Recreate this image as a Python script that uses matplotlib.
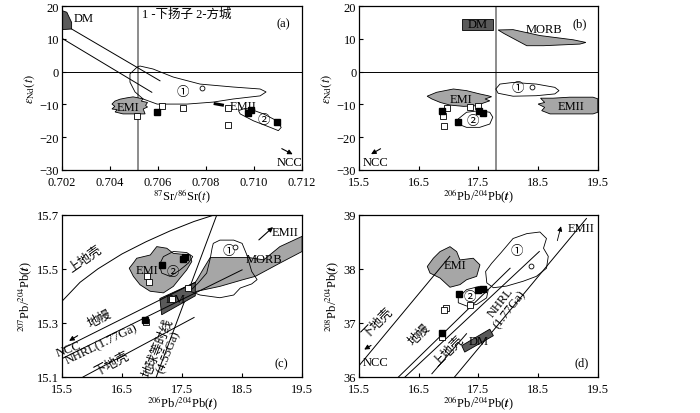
import matplotlib
matplotlib.use('Agg')
import matplotlib.pyplot as plt
from matplotlib.patches import Polygon

plt.rcParams['font.family'] = ['Liberation Serif', 'Noto Sans CJK SC']
plt.rcParams['mathtext.fontset'] = 'stix'
plt.rcParams['font.size'] = 9

GRAY = '#a6a6a6'
DARK = '#5a5a5a'

# ---------------- (a) eNd(t) vs 87Sr/86Sr(t)
a_open_x = [0.70513, 0.70617, 0.70704, 0.70892, 0.70892]
a_open_y = [-13.5, -10.5, -11.1, -11.1, -16.3]
a_fill_x = [0.70596, 0.70975, 0.70988, 0.71096]
a_fill_y = [-12.3, -12.6, -11.7, -15.4]
a_circ = (0.70783, -5.0)
a_dm = [(0.702, 18.6), (0.7022, 18.1), (0.7024, 15.0), (0.7024, 13.0), (0.702, 12.8)]
a_emi = [(0.70408, -9.9), (0.7042, -9.0), (0.70442, -8.4), (0.70470, -8.0), (0.70496, -7.7),
         (0.70538, -8.3), (0.70530, -9.0), (0.70556, -9.4), (0.70548, -10.3), (0.70556, -10.8),
         (0.70538, -11.4), (0.70546, -12.9), (0.70504, -12.9), (0.70454, -12.9),
         (0.70421, -12.3), (0.70430, -11.6), (0.70408, -11.4), (0.70420, -10.6)]
a_f1 = [(0.70525, 1.7), (0.70579, 0.8), (0.70663, -1.65), (0.70775, -3.8), (0.70913, -4.7),
        (0.71025, -5.3), (0.7105, -6.2), (0.71025, -7.4), (0.70913, -8.35), (0.70829, -9.3),
        (0.70721, -9.9), (0.70596, -9.9), (0.70538, -8.35), (0.70504, -6.2), (0.70483, -3.2),
        (0.70483, -0.7), (0.70513, 1.4)]
a_f2 = [(0.70935, -11.9), (0.70963, -11.2), (0.7099, -11.6), (0.71039, -12.9), (0.71095, -15.0),
        (0.71113, -17.0), (0.71101, -18.0), (0.71067, -17.0), (0.70997, -15.0), (0.70942, -12.9)]
a_band1 = ([0.7024, 0.70608], [13.0, -2.8])
a_band2 = ([0.702, 0.70574], [10.15, -6.3])

# ---------------- (b) eNd(t) vs 206Pb/204Pb(t)
b_open_x = [16.968, 16.90, 16.923, 17.358, 17.497]
b_open_y = [-11.1, -13.4, -16.5, -10.9, -10.6]
b_fill_x = [16.884, 17.151, 17.513, 17.57]
b_fill_y = [-12.0, -15.3, -12.0, -12.6]
b_circ = (18.39, -4.8)
b_dm = [(17.22, 16.0), (17.75, 16.0), (17.75, 12.7), (17.22, 12.7)]
b_morb = [(17.83, 12.7), (18.08, 12.8), (18.53, 11.0), (19.09, 9.7), (19.30, 8.9),
          (19.20, 8.4), (18.59, 7.9), (18.31, 7.9), (17.93, 11.6)]
b_emi = [(16.64, -7.5), (16.80, -6.3), (17.08, -5.3), (17.30, -5.8), (17.52, -6.8),
         (17.66, -7.35), (17.72, -7.65), (17.61, -8.35), (17.69, -8.9), (17.58, -9.6),
         (17.47, -10.4), (17.25, -10.6), (17.02, -10.2), (16.86, -9.4), (16.72, -8.35)]
b_emii = [(18.54, -8.1), (18.75, -8.1), (19.03, -7.8), (19.42, -7.8), (19.5, -8.3),
          (19.5, -12.4), (19.42, -12.9), (18.98, -12.9), (18.70, -12.9), (18.56, -11.9),
          (18.61, -10.9), (18.50, -9.9), (18.61, -9.4)]
b_f1 = [(17.86, -3.8), (18.08, -3.3), (18.47, -3.8), (18.78, -4.8), (18.85, -5.8),
        (18.78, -6.8), (18.47, -7.35), (18.08, -7.5), (17.83, -6.6), (17.79, -5.3)]
b_f2 = [(17.16, -14.45), (17.30, -12.4), (17.52, -11.9), (17.69, -12.4), (17.74, -13.9),
        (17.69, -15.98), (17.52, -17.0), (17.30, -17.0), (17.16, -16.0)]

# ---------------- (c) 207Pb/204Pb vs 206Pb/204Pb
c_open_x = [16.912, 16.955, 16.895, 17.33, 17.60]
c_open_y = [15.472, 15.451, 15.304, 15.39, 15.43]
c_fill_x = [17.162, 17.511, 17.55, 16.883]
c_fill_y = [15.515, 15.535, 15.545, 15.311]
c_circ = (18.383, 15.582)
c_upper_x = [15.5, 15.8, 16.1, 16.5, 16.9, 17.3, 17.7, 18.05]
c_upper_y = [15.38, 15.45, 15.50, 15.555, 15.60, 15.64, 15.675, 15.70]
c_mantle = ([15.5, 17.72], [15.204, 15.45])
c_nhrl = ([15.5, 18.5], [15.168, 15.496])
c_lower = ([15.85, 17.70], [15.1, 15.32])
c_geochron = ([18.08, 17.07], [15.7, 15.1])
c_dm = [(17.13, 15.39), (17.72, 15.45), (17.72, 15.40), (17.16, 15.33)]
c_morb = [(17.58, 15.403), (17.75, 15.46), (17.86, 15.502), (17.97, 15.542), (18.60, 15.542),
          (18.86, 15.533), (19.13, 15.582), (19.5, 15.62), (19.5, 15.564), (19.13, 15.521),
          (18.72, 15.472), (18.52, 15.46), (18.13, 15.435), (17.75, 15.417)]
c_emi = [(16.62, 15.502), (16.70, 15.525), (16.745, 15.539), (16.97, 15.551), (17.078, 15.582),
         (17.245, 15.576), (17.355, 15.557), (17.633, 15.551), (17.662, 15.527), (17.578, 15.496),
         (17.467, 15.466), (17.355, 15.435), (17.189, 15.411), (16.967, 15.417), (16.80, 15.441),
         (16.689, 15.472)]
c_f1 = [(18.02, 15.594), (18.13, 15.606), (18.36, 15.606), (18.50, 15.594), (18.58, 15.551),
        (18.66, 15.49), (18.75, 15.46), (18.66, 15.444), (18.47, 15.429), (18.36, 15.403),
        (18.13, 15.393), (17.80, 15.403), (17.63, 15.417), (17.77, 15.448), (17.91, 15.484),
        (17.97, 15.539), (18.00, 15.576)]
c_f2 = [(17.122, 15.515), (17.189, 15.545), (17.355, 15.564), (17.578, 15.56), (17.678, 15.545),
        (17.605, 15.521), (17.467, 15.496), (17.30, 15.472), (17.162, 15.484)]

# ---------------- (d) 208Pb/204Pb vs 206Pb/204Pb
d_open_x = [17.358, 16.956, 16.928, 16.89]
d_open_y = [37.33, 37.268, 37.238, 36.73]
d_fill_x = [17.174, 17.497, 17.57, 16.884]
d_fill_y = [37.537, 37.604, 37.634, 36.805]
d_circ = (18.379, 38.06)
d_lower = ([15.5, 17.02], [36.21, 38.23])
d_mantle = ([16.16, 18.03], [36.0, 38.01])
d_l3 = ([16.27, 18.52], [36.0, 38.32])
d_upper = ([16.72, 17.30], [36.06, 36.80])
d_nhrl = ([17.10, 19.31], [36.0, 38.93])
d_dm = [(17.22, 36.58), (17.69, 36.884), (17.75, 36.763), (17.27, 36.46)]
d_emi = [(16.643, 38.043), (16.744, 38.195), (16.856, 38.318), (17.023, 38.409), (17.135, 38.318),
         (17.19, 38.164), (17.413, 38.195), (17.525, 38.073), (17.47, 37.86), (17.302, 37.798),
         (17.19, 37.707), (17.023, 37.659), (16.856, 37.829), (16.688, 37.921)]
d_f1 = [(17.62, 37.95), (17.72, 38.10), (17.88, 38.30), (18.08, 38.56), (18.31, 38.65),
        (18.53, 38.68), (18.64, 38.56), (18.59, 38.38), (18.67, 38.23), (18.64, 38.01),
        (18.47, 37.86), (18.25, 37.77), (17.97, 37.68), (17.75, 37.65), (17.64, 37.74)]
d_f2 = [(17.162, 37.463), (17.302, 37.615), (17.525, 37.677), (17.664, 37.615), (17.637, 37.463),
        (17.47, 37.341), (17.302, 37.312), (17.162, 37.372)]


def field(ax, pts, fc, lw=0.6, z=2):
    ax.add_patch(Polygon(pts, closed=True, fc=fc, ec='k', lw=lw, zorder=z))


def samples(ax, ox, oy, fx, fy, circ):
    ax.plot(ox, oy, 's', ms=3.8, mfc='white', mec='k', mew=0.6, ls='none', zorder=6)
    ax.plot(fx, fy, 's', ms=4.2, mfc='k', mec='k', ls='none', zorder=6)
    ax.plot(*circ, 'o', ms=3.5, mfc='white', mec='k', mew=0.6, zorder=6)


def arrow(ax, start, end, lw=0.8):
    ax.annotate('', xy=end, xytext=start,
                arrowprops=dict(arrowstyle='-|>', lw=lw, color='k', mutation_scale=7))


def style(ax, xlim, ylim, xticks, yticks, xlabel, ylabel, xfmt=None):
    ax.set_xlim(*xlim)
    ax.set_ylim(*ylim)
    ax.set_xticks(xticks)
    ax.set_yticks(yticks)
    if xfmt:
        ax.set_xticklabels([xfmt % v for v in xticks])
    ax.tick_params(direction='in', length=3, width=0.8, labelsize=9)
    ax.tick_params(axis='x', pad=4.5)
    ax.tick_params(axis='y', pad=2)
    ax.set_xlabel(xlabel, fontsize=9, labelpad=-1)
    ax.set_ylabel(ylabel, fontsize=9, labelpad=2)
    for s in ax.spines.values():
        s.set_linewidth(0.9)


fig = plt.figure(figsize=(7, 4.14), dpi=100)
ax_a = fig.add_axes([0.0886, 0.587, 0.343, 0.396])
ax_b = fig.add_axes([0.513, 0.587, 0.341, 0.396])
ax_c = fig.add_axes([0.0886, 0.087, 0.343, 0.392])
ax_d = fig.add_axes([0.513, 0.087, 0.341, 0.392])

pb6 = r'$^{206}$Pb/$^{204}$Pb($\mathbfit{t}$)'
end = r'$\varepsilon_{\rm Nd}(t)$'

# (a)
ax = ax_a
ax.axvline(0.70515, color='#8c8c8c', lw=1.4, zorder=1)
ax.axhline(0, color='k', lw=0.7, zorder=1)
field(ax, a_dm, DARK)
field(ax, a_emi, GRAY)
ax.plot(*a_band1, color='k', lw=0.7, zorder=3)
ax.plot(*a_band2, color='k', lw=0.7, zorder=3)
field(ax, a_f1, 'none', z=3)
field(ax, a_f2, 'none', z=3)
ax.plot([0.70838, 0.70868], [-9.8, -10.2], color='k', lw=2.2, zorder=4)
samples(ax, a_open_x, a_open_y, a_fill_x, a_fill_y, a_circ)
arrow(ax, (0.71105, -23.1), (0.71171, -25.6))
ax.text(0.70248, 16.5, 'DM', ha='left', va='center', fontsize=9)
ax.text(0.70533, 17.6, '1 -下扬子 2-方城', ha='left', va='center', fontsize=9)
ax.text(0.7112, 14.6, '(a)', ha='center', va='center', fontsize=9)
ax.text(0.70475, -10.8, 'EMI', ha='center', va='center', fontsize=9, zorder=5)
ax.text(0.70897, -10.6, 'EMII', ha='left', va='center', fontsize=9, zorder=5)
ax.text(0.70704, -6.2, '①', ha='center', va='center', fontsize=9)
ax.text(0.71039, -14.7, '②', ha='center', va='center', fontsize=9)
ax.text(0.7120, -27.5, 'NCC', ha='right', va='center', fontsize=9)
style(ax, (0.702, 0.712), (-30, 20), [0.702, 0.704, 0.706, 0.708, 0.710, 0.712],
      [-30, -20, -10, 0, 10, 20], r'$^{87}$Sr/$^{86}$Sr($t$)', end, '%.3f')

# (b)
ax = ax_b
ax.axvline(17.79, color='#8c8c8c', lw=1.4, zorder=1)
ax.axhline(0, color='k', lw=0.7, zorder=1)
field(ax, b_dm, DARK)
field(ax, b_morb, GRAY)
field(ax, b_emi, GRAY)
field(ax, b_emii, GRAY)
field(ax, b_f1, 'none', z=3)
field(ax, b_f2, 'none', z=3)
samples(ax, b_open_x, b_open_y, b_fill_x, b_fill_y, b_circ)
arrow(ax, (15.90, -23.1), (15.66, -25.6))
ax.text(17.485, 14.4, 'DM', ha='center', va='center', fontsize=9, zorder=5)
ax.text(18.6, 12.9, 'MORB', ha='center', va='center', fontsize=9, zorder=5)
ax.text(19.2, 14.8, '(b)', ha='center', va='center', fontsize=9)
ax.text(17.2, -8.35, 'EMI', ha='center', va='center', fontsize=9, zorder=5)
ax.text(19.06, -10.6, 'EMII', ha='center', va='center', fontsize=9, zorder=5)
ax.text(18.167, -5.1, '①', ha='center', va='center', fontsize=9)
ax.text(17.413, -15.0, '②', ha='center', va='center', fontsize=9)
ax.text(15.77, -27.7, 'NCC', ha='center', va='center', fontsize=9)
style(ax, (15.5, 19.5), (-30, 20), [15.5, 16.5, 17.5, 18.5, 19.5],
      [-30, -20, -10, 0, 10, 20], pb6, end, '%.1f')

# (c)
ax = ax_c
ax.plot(c_upper_x, c_upper_y, color='k', lw=0.7, zorder=3)
ax.plot(*c_geochron, color='k', lw=0.7, zorder=3)
field(ax, c_morb, GRAY)
field(ax, c_emi, GRAY)
field(ax, c_dm, DARK, z=3)
ax.plot(*c_mantle, color='k', lw=0.7, zorder=3)
ax.plot(*c_nhrl, color='k', lw=0.7, zorder=3)
ax.plot(*c_lower, color='k', lw=0.7, zorder=3)
field(ax, c_f1, 'none', z=3)
field(ax, c_f2, 'none', z=3)
samples(ax, c_open_x, c_open_y, c_fill_x, c_fill_y, c_circ)
arrow(ax, (18.745, 15.6), (19.05, 15.661))
arrow(ax, (15.8, 15.258), (15.578, 15.228))
ax.text(17.4, 15.39, 'DM', ha='center', va='center', fontsize=9, zorder=4)
ax.text(18.87, 15.535, 'MORB', ha='center', va='center', fontsize=9, zorder=5)
ax.text(18.995, 15.637, 'EMII', ha='left', va='center', fontsize=9)
ax.text(16.917, 15.496, 'EMI', ha='center', va='center', fontsize=9, zorder=5)
ax.text(18.288, 15.564, '①', ha='center', va='center', fontsize=9)
ax.text(17.355, 15.488, '②', ha='center', va='center', fontsize=9)
ax.text(19.16, 15.149, '(c)', ha='center', va='center', fontsize=9)
ax.text(15.895, 15.539, '上地壳', ha='center', va='center', rotation=35, fontsize=9)
ax.text(16.133, 15.317, '地幔', ha='center', va='center', rotation=28, fontsize=9)
ax.text(16.162, 15.222, 'NHRL(1.77Ga)', ha='center', va='center', rotation=26, fontsize=9)
ax.text(16.328, 15.152, '下地壳', ha='center', va='center', rotation=28, fontsize=9)
ax.text(15.62, 15.205, 'NCC', ha='center', va='center', rotation=20, fontsize=9)
ax.text(17.19, 15.203, '地球等时线\n(4.55Ga)', ha='center', va='center', rotation=68,
        fontsize=9, linespacing=0.9)
style(ax, (15.5, 19.5), (15.1, 15.7), [15.5, 16.5, 17.5, 18.5, 19.5],
      [15.1, 15.3, 15.5, 15.7], pb6, r'$^{207}$Pb/$^{204}$Pb($\mathbfit{t}$)', '%.1f')

# (d)
ax = ax_d
field(ax, d_emi, GRAY)
for ln in (d_lower, d_mantle, d_l3, d_upper, d_nhrl):
    ax.plot(*ln, color='k', lw=0.7, zorder=3)
field(ax, d_dm, DARK, z=3)
field(ax, d_f1, 'none', z=3)
field(ax, d_f2, 'none', z=3)
samples(ax, d_open_x, d_open_y, d_fill_x, d_fill_y, d_circ)
arrow(ax, (18.81, 38.47), (18.895, 38.835), lw=0.6)
arrow(ax, (15.74, 36.61), (15.545, 36.48))
ax.text(17.51, 36.67, 'DM', ha='center', va='center', fontsize=9, zorder=5)
ax.text(17.107, 38.07, 'EMI', ha='center', va='center', fontsize=9, zorder=5)
ax.text(19.003, 38.757, 'EMII', ha='left', va='center', fontsize=9)
ax.text(18.14, 38.33, '①', ha='center', va='center', fontsize=9)
ax.text(17.358, 37.48, '②', ha='center', va='center', fontsize=9)
ax.text(19.227, 36.27, '(d)', ha='center', va='center', fontsize=9)
ax.text(15.77, 36.27, 'NCC', ha='center', va='center', fontsize=9)
ax.text(15.806, 37.006, '下地壳', ha='center', va='center', rotation=45, fontsize=9)
ax.text(16.52, 36.79, '地幔', ha='center', va='center', rotation=45, fontsize=9)
ax.text(16.995, 36.49, '上地壳', ha='center', va='center', rotation=45, fontsize=9)
ax.text(17.95, 37.33, 'NHRL\n(1.77Ga)', ha='center', va='center', rotation=52,
        fontsize=9, linespacing=0.9)
style(ax, (15.5, 19.5), (36, 39), [15.5, 16.5, 17.5, 18.5, 19.5],
      [36, 37, 38, 39], pb6, r'$^{208}$Pb/$^{204}$Pb($\mathbfit{t}$)', '%.1f')

fig.savefig('out.png', dpi=100)
